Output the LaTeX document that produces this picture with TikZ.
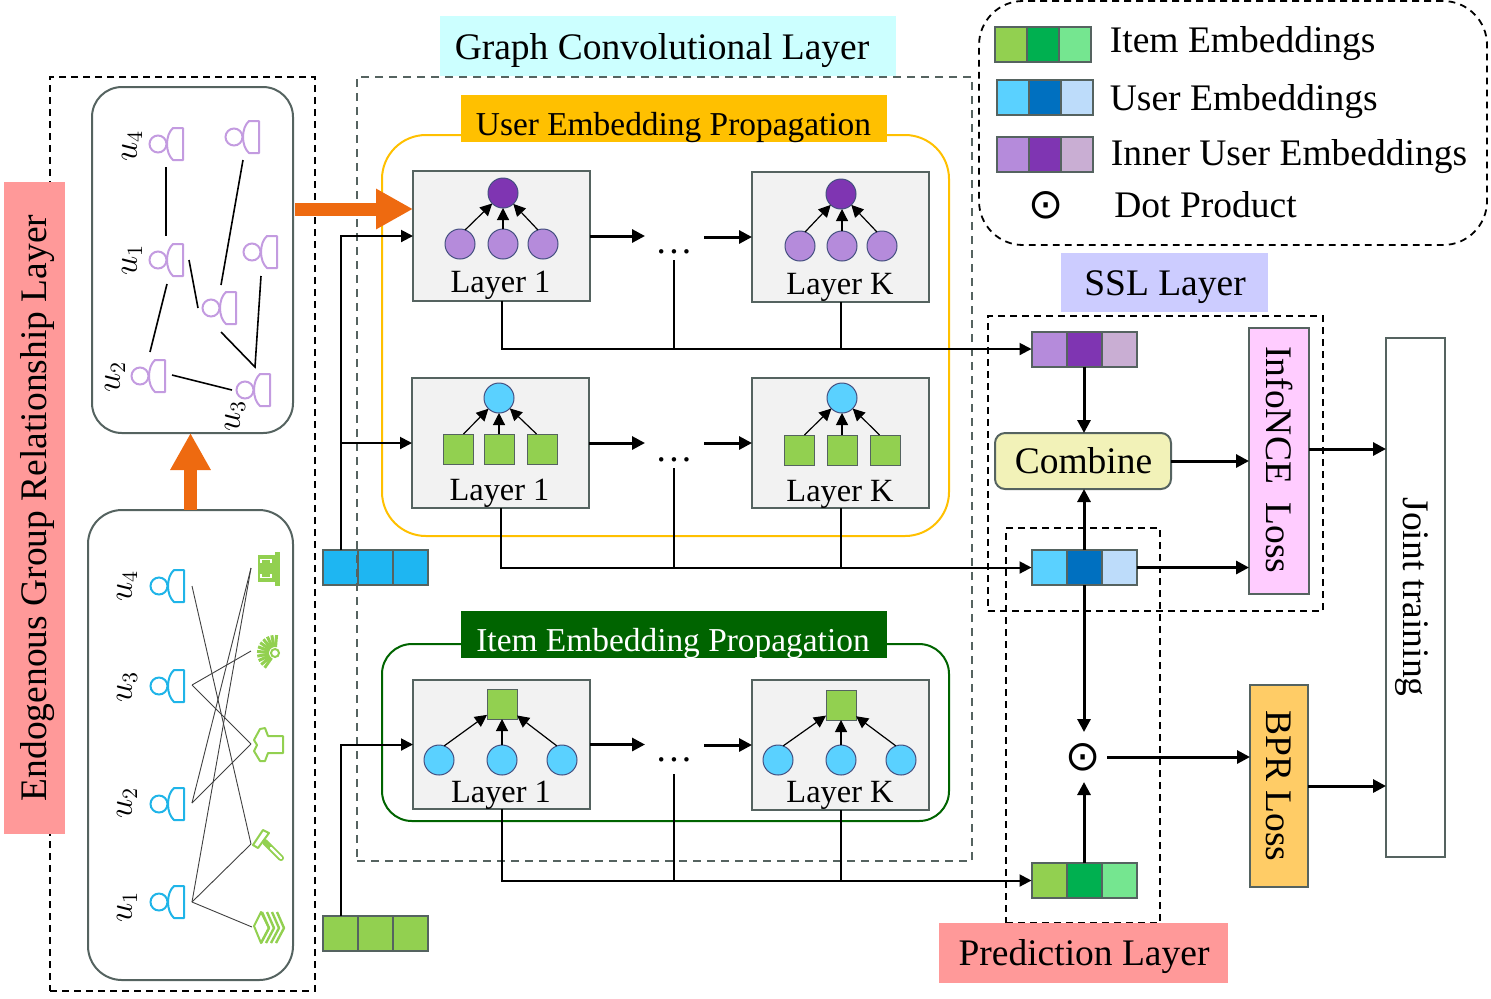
\documentclass[tikz,border=0pt]{standalone}
\usepackage{fontspec}
\setmainfont{Liberation Serif}
\newfontfamily\symfont{DejaVu Sans}
\usetikzlibrary{arrows.meta}
\definecolor{stroke}{HTML}{556360}
\definecolor{cgreen}{HTML}{92D050}
\definecolor{cgreenb}{HTML}{00B050}
\definecolor{cgreenc}{HTML}{75E690}
\definecolor{cblue}{HTML}{5AD1FF}
\definecolor{cblueb}{HTML}{0070C0}
\definecolor{cbluec}{HTML}{BDDCFA}
\definecolor{cbar}{HTML}{1EB6F2}
\definecolor{cpur}{HTML}{B58BDB}
\definecolor{cpurb}{HTML}{7F35B2}
\definecolor{cpurc}{HTML}{C9AED3}
\definecolor{iconpur}{HTML}{C39BE0}
\definecolor{iconblue}{HTML}{1FB4E8}
\definecolor{corange}{HTML}{EE6A10}
\definecolor{cred}{HTML}{FF9999}
\definecolor{darkgr}{HTML}{006400}
\definecolor{amber}{HTML}{FFC000}
\definecolor{ccomb}{HTML}{F2F2B8}
\definecolor{cnce}{HTML}{FFCCFF}
\definecolor{cbpr}{HTML}{FFCC66}
\definecolor{cssl}{HTML}{CCCCFF}
\definecolor{cgcl}{HTML}{CCFFFF}
\def\cw{35}
\tikzset{
  wh/.style 2 args={minimum width=#1*0.5pt,minimum height=#2*0.5pt,inner sep=0pt,outer sep=0pt},
  big/.style={font=\fontsize{18.75}{22}\selectfont},
  mid/.style={font=\fontsize{16.7}{20}\selectfont},
  lay/.style={font=\fontsize{16.2}{19}\selectfont},
  ulabel/.style={rotate=90,font=\fontsize{16}{19}\selectfont},
  layerbox/.style={draw=stroke,line width=1pt,fill=black!5},
  lossbox/.style={draw=stroke,line width=1pt},
  dashblack/.style={draw=black,line width=0.9pt,dash pattern=on 3.4pt off 2.6pt},
  cellbox/.style={draw=stroke,line width=1pt,wh={\cw}{35}},
  circ/.style={circle,draw=stroke!80!blue,line width=0.5pt,inner sep=0pt,outer sep=0pt,minimum size=15pt},
  sq/.style={rectangle,draw=stroke,line width=0.5pt,inner sep=0pt,outer sep=0pt,minimum size=15pt},
  tiny/.style={-{Triangle[width=6pt,length=6pt]},line width=0.6pt,black},
  conn/.style={line width=1pt,black},
  arr/.style={-{Triangle[width=6pt,length=6pt]},line width=1pt,black},
  arrb/.style={-{Triangle[width=6.5pt,length=6.5pt]},line width=1.5pt,black},
  thickarrow/.style={-{Triangle[width=19pt,length=18.5pt]},line width=6.5pt,corange},
  medge/.style={line width=0.8pt,black},
  bedge/.style={line width=0.45pt,black!75},
  itemline/.style={cgreen,line width=1pt,line join=round},
}
% name cx cy c1 c2 c3
\newcommand\embar[6]{%
  \node[cellbox,fill=#4] (#1l) at (#2-\cw,#3) {};
  \node[cellbox,fill=#6] (#1r) at (#2+\cw,#3) {};
  \node[cellbox,fill=#5] (#1m) at (#2,#3) {};
  \node[wh={3*\cw}{35}] (#1) at (#2,#3) {};}
% name cx cy colour
\newcommand\usericon[4]{%
  \node[circle,draw=#4,line width=1pt,inner sep=0pt,minimum size=8.5pt] (#1) at (#2,#3) {};
  \draw[#4,line width=1pt,line join=round] (#2+25,#3-16) -- (#2+15,#3-16) .. controls (#2+7,#3-9) and (#2+7,#3+9) .. (#2+15,#3+16) -- (#2+25,#3+16) -- cycle;}
% prefix topstyle lowstyle tx ty x1 x2 x3 ly
\newcommand\treeup[9]{%
  \node[#3] (#1a) at (#6,#9) {};
  \node[#3] (#1b) at (#7,#9) {};
  \node[#3] (#1c) at (#8,#9) {};
  \node[#2] (#1t) at (#4,#5) {};
  \draw[tiny] (#1a.70) -- (#1t);
  \draw[tiny] (#1b.north) -- (#1b.north |- #1t.south);
  \draw[tiny] (#1c.110) -- (#1t);}
\begin{document}
\begin{tikzpicture}[x=0.5pt,y=-0.5pt]
\useasboundingbox (0,0) rectangle (1491,998);

% ---------- left panel
\node[wh={265}{914},dashblack] (leftdash) at (182.5,534) {};
\node[wh={61}{652},fill=cred] (endoband) at (34.5,508) {};
\node[big,rotate=90] (endotxt) at (38,508) {Endogenous Group Relationship Layer};
\node[wh={201}{346},draw=stroke,line width=1pt,rounded corners=15pt] (purplepanel) at (192.5,260) {};
\node[wh={205}{470},draw=stroke,line width=1pt,rounded corners=17pt] (greenpanel) at (190.5,745) {};
\draw[thickarrow] (greenpanel.north) -- (greenpanel.north |- purplepanel.south);

% purple social graph
\usericon{pa}{158}{144}{iconpur}
\usericon{pb}{234}{137}{iconpur}
\usericon{pc}{158}{260}{iconpur}
\usericon{pd}{252}{252}{iconpur}
\usericon{pe}{211}{308}{iconpur}
\usericon{pf}{140}{376}{iconpur}
\usericon{pg}{245}{390}{iconpur}
\coordinate (m1) at (166,167); \coordinate (m2) at (166,236);
\coordinate (m3) at (243,160); \coordinate (m4) at (221,285);
\coordinate (m5) at (189,260); \coordinate (m6) at (198,308);
\coordinate (m7) at (167,284); \coordinate (m8) at (150,352);
\coordinate (m9) at (261,276); \coordinate (m10) at (255,367);
\coordinate (m11) at (221,332);
\coordinate (m12) at (172,375); \coordinate (m13) at (232,390);
\draw[medge] (m1) -- (m2);
\draw[medge] (m3) -- (m4);
\draw[medge] (m5) -- (m6);
\draw[medge] (m7) -- (m8);
\draw[medge] (m9) -- (m10) -- (m11);
\draw[medge] (m12) -- (m13);
\node[ulabel] (lu4) at (132,146) {$u_4$};
\node[ulabel] (lu1) at (132,260) {$u_1$};
\node[ulabel] (lu2) at (115,377) {$u_2$};
\node[ulabel] (lu3) at (235,416) {$u_3$};

% blue user-item graph
\usericon{ba}{159}{586}{iconblue}
\usericon{bb}{159}{686}{iconblue}
\usericon{bc}{159}{804}{iconblue}
\usericon{bd}{159}{902}{iconblue}
\node[ulabel] (mu4) at (127,586) {$u_4$};
\node[ulabel] (mu3) at (127,687) {$u_3$};
\node[ulabel] (mu2) at (127,803) {$u_2$};
\node[ulabel] (mu1) at (127,907) {$u_1$};
\coordinate (ua) at (192,586); \coordinate (ub) at (192,685);
\coordinate (uc) at (192,803); \coordinate (ud) at (192,902);
\coordinate (ia) at (251,568); \coordinate (ib) at (251,651);
\coordinate (ic) at (251,744); \coordinate (id) at (251,844);
\coordinate (ie) at (252,927);
\draw[bedge] (ua) -- (id);
\draw[bedge] (ub) -- (ib);
\draw[bedge] (ub) -- (ic);
\draw[bedge] (uc) -- (ic);
\draw[bedge] (uc) -- (ia);
\draw[bedge] (ud) -- (ia);
\draw[bedge] (ud) -- (id);
\draw[bedge] (ud) -- (ie);
% item icons
\fill[cgreen] (258,555) rectangle (275,582);
\fill[cgreen] (275,552) rectangle (280,586);
\draw[white,line width=0.8pt] (261,563) -- (261,559.5) -- (271,559.5) -- (271,563);
\draw[white,line width=0.8pt] (261,574) -- (261,577.5) -- (271,577.5) -- (271,574);
\foreach \a in {125,140,155,170,185,200,215,230,245,260,275}
  \draw[cgreen,line width=1.5pt] (275,653) ++(\a:6) -- ++(\a:12);
\draw[cgreen,line width=1pt] (275,653) circle[radius=4];
\draw[itemline] (283,736) -- (268,736) -- (265,728) -- (260,729) -- (254,740) -- (257,745) -- (254,751) -- (260,761) -- (265,761) -- (268,753) -- (283,753) -- cycle;
\draw[itemline] (253,845) -- (263,830) -- (269,833) -- (258,848) -- cycle;
\draw[cgreen,line width=3pt,line cap=round] (265,842) -- (281,858);
\draw[white,line width=1.2pt,line cap=round] (271,848) -- (281,858);
\draw[itemline] (254,926) -- (261,912) -- (269,928) -- (261,943) -- cycle;
\foreach \d in {0,5,10,15}
  \draw[cgreen,line width=1.2pt,line join=round] (262+\d,912) -- (269+\d,928) -- (261+\d,943);

% ---------- input bars
\embar{ubar}{375.5}{567.5}{cbar}{cbar}{cbar}
\embar{ibar}{375}{933.5}{cgreen}{cgreen}{cgreen}

% ---------- graph convolutional layer
\node[wh={456}{60},fill=cgcl] (gcltitle) at (668,46) {};
\node[big] (gcltxt) at (662,51) {Graph Convolutional Layer};
\node[wh={615}{784},draw=stroke,line width=0.9pt,dash pattern=on 4pt off 3pt] (gcldash) at (664.5,469) {};
\node[wh={567}{401},draw=amber,line width=1pt,rounded corners=22pt] (userpanel) at (665.5,335.5) {};
\node[wh={426}{47},fill=amber] (usertitle) at (674,118.5) {};
\node[mid] (usertxt) at (673.5,128) {User Embedding Propagation};
\node[wh={567}{177},draw=darkgr,line width=1pt,rounded corners=15pt] (itempanel) at (665.5,732.5) {};
\node[wh={426}{47},fill=darkgr] (itemtitle) at (674,634.5) {};
\node[mid,text=white] (itemtxt) at (673,643) {Item Embedding Propagation};

% layer boxes
\node[wh={177}{130},layerbox] (L1) at (501.5,236) {};
\node[wh={177}{130},layerbox] (K1) at (840.5,237) {};
\node[wh={177}{130},layerbox] (L2) at (500.5,443) {};
\node[wh={177}{130},layerbox] (K2) at (840.5,443) {};
\node[wh={177}{129},layerbox] (L3) at (501.5,744.5) {};
\node[wh={177}{130},layerbox] (K3) at (840.5,745) {};

\treeup{ua}{circ,fill=cpurb}{circ,fill=cpur}{503}{193}{460}{503}{543}{244}
\treeup{ub}{circ,fill=cpurb}{circ,fill=cpur}{841}{194}{800}{842}{882}{246}
\treeup{uc}{circ,fill=cblue}{sq,fill=cgreen}{499}{398}{458}{499}{542}{449}
\treeup{ud}{circ,fill=cblue}{sq,fill=cgreen}{842}{398}{799}{842}{885}{450}
\treeup{ue}{sq,fill=cgreen}{circ,fill=cblue}{502}{704}{439}{502}{562}{760}
\treeup{uf}{sq,fill=cgreen}{circ,fill=cblue}{841}{705}{778}{841}{901}{760}

\node[lay] (t1) at (500.5,285) {Layer 1};
\node[lay] (t2) at (840,287) {Layer K};
\node[lay] (t3) at (499.5,493) {Layer 1};
\node[lay] (t4) at (840,494) {Layer K};
\node[lay] (t5) at (501,795) {Layer 1};
\node[lay] (t6) at (840,795) {Layer K};

% dots
\node[big,anchor=base,inner sep=0pt] (d1) at (674,253) {.\kern1.6pt.\kern1.6pt.};
\node[big,anchor=base,inner sep=0pt] (d2) at (674,461) {.\kern1.6pt.\kern1.6pt.};
\node[big,anchor=base,inner sep=0pt] (d3) at (674,761) {.\kern1.6pt.\kern1.6pt.};
\coordinate (v1) at (674,260); \coordinate (v2) at (674,468); \coordinate (v3) at (674,774);
\coordinate (a1) at (645,236); \coordinate (b1) at (704,237);
\coordinate (a2) at (645,443); \coordinate (b2) at (704,443);
\coordinate (a3) at (645,744.5); \coordinate (b3) at (704,745);

\draw[arrb] (L1.east) -- (a1);
\draw[arrb] (b1) -- (K1.west);
\draw[arrb] (L2.east) -- (a2);
\draw[arrb] (b2) -- (K2.west);
\draw[arrb] (L3.east) -- (a3);
\draw[arrb] (b3) -- (K3.west);

% ---------- right side bars
\embar{innerbar}{1084}{349}{cpur}{cpurb}{cpurc}
\embar{userbar}{1084}{567.5}{cblue}{cblueb}{cbluec}
\embar{itembar}{1084}{880.5}{cgreen}{cgreenb}{cgreenc}

\draw[arr] (L1.south) |- (innerbar.west);
\draw[conn] (K1.south) -- (K1.south |- innerbar.west);
\draw[conn] (v1) -- (v1 |- innerbar.west);
\draw[arr] (L2.south) |- (userbar.west);
\draw[conn] (K2.south) -- (K2.south |- userbar.west);
\draw[conn] (v2) -- (v2 |- userbar.west);
\draw[arr] (L3.south) |- (itembar.west);
\draw[conn] (K3.south) -- (K3.south |- itembar.west);
\draw[conn] (v3) -- (v3 |- itembar.west);

% inputs
\coordinate (bus) at (341,550);
\draw[arr] (ubar.north -| bus) |- (L1.west);
\draw[arr] (ubar.north -| bus) |- (L2.west);
\draw[arr] (ibar.north -| bus) |- (L3.west);
\coordinate (thickstart) at (295,209);
\coordinate (thickend) at (413,209);
\draw[thickarrow] (thickstart) -- (thickend);

% ---------- SSL / prediction
\node[wh={207}{59},fill=cssl] (ssltitle) at (1164.5,282.5) {};
\node[big] (ssltxt) at (1165,287) {SSL Layer};
\node[wh={335}{295},dashblack] (ssldash) at (1155.5,463.5) {};
\node[wh={154}{395},dashblack] (preddash) at (1083,725.5) {};
\node[wh={289}{60},fill=cred] (predtitle) at (1083.5,953) {};
\node[big] (predtxt) at (1084,956.5) {Prediction Layer};
\node[wh={176}{56},draw=stroke,line width=1pt,fill=ccomb,rounded corners=5pt] (combine) at (1083,461) {};
\node[big] (combtxt) at (1083.5,461) {Combine};
\node[wh={60}{266},lossbox,fill=cnce] (nce) at (1279,461) {};
\node[big,rotate=-90] (ncetxt) at (1279,460) {InfoNCE\ \ Loss};
\node[wh={58}{202},lossbox,fill=cbpr] (bpr) at (1279,786) {};
\node[big,rotate=-90] (bprtxt) at (1279,786) {BPR Loss};
\node[wh={59}{519},lossbox] (joint) at (1415.5,597.5) {};
\node[big,rotate=-90] (jointtxt) at (1412,597) {Joint training};
\node[font=\symfont\fontsize{21}{24}\selectfont,inner sep=0pt] (dot) at (1083.5,757) {⊙};

\coordinate (dotr) at (1107,757);
\coordinate (dott) at (1084,732);
\coordinate (dotb) at (1084,782);
\coordinate (nceout) at (1309,449);
\coordinate (jointin) at (1386,449);
\draw[arrb] (innerbar.south) -- (innerbar.south |- combine.north);
\draw[arrb] (combine.east) -- (nce.west |- combine.east);
\draw[arrb] (userbarm.north) -- (userbarm.north |- combine.south);
\draw[arrb] (userbar.east) -- (nce.west |- userbar.east);
\draw[arrb] (userbarm.south) -- (dott);
\draw[arrb] (itembarm.north) -- (dotb);
\draw[arrb] (dotr) -- (bpr.west |- dotr);
\draw[arrb] (nceout) -- (jointin);
\draw[arrb] (bpr.east) -- (joint.west |- bpr.east);

% ---------- legend
\node[wh={508}{244},dashblack,rounded corners=22pt] (legend) at (1233,123) {};
\def\cw{32}
\embar{legitem}{1042.5}{44.5}{cgreen}{cgreenb}{cgreenc}
\embar{leguser}{1044.5}{97.5}{cblue}{cblueb}{cbluec}
\embar{leginner}{1044.5}{154.5}{cpur}{cpurb}{cpurc}
\node[font=\symfont\fontsize{21}{24}\selectfont,inner sep=0pt] (legdot) at (1046,205) {⊙};
\node[big,anchor=west,inner sep=0pt] (leg1) at (1109.5,44) {Item Embeddings};
\node[big,anchor=west,inner sep=0pt] (leg2) at (1109.5,102) {User Embeddings};
\node[big,anchor=west,inner sep=0pt] (leg3) at (1110.5,157) {Inner User Embeddings};
\node[big,anchor=west,inner sep=0pt] (leg4) at (1114,205) {Dot Product};
\end{tikzpicture}
\end{document}
